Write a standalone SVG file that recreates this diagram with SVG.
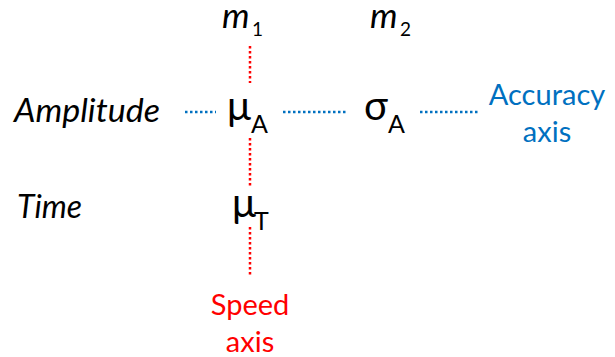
<svg xmlns="http://www.w3.org/2000/svg" width="615" height="357" viewBox="0 0 615 357">
<style>
text { font-family: Lato, "Open Sans", "Liberation Sans", sans-serif; fill: #000; }
.lab { font-style: italic; font-size: 32px; }
.m { font-style: italic; font-size: 35px; }
.sub1 { font-size: 19px; }
.greek { font-size: 40px; }
.sub { font-size: 25px; }
.blue { fill: #0070C0; font-size: 29px; }
.red { fill: #FF0000; font-size: 29px; }
.vline { stroke: #FF0000; stroke-width: 2.5; stroke-dasharray: 2.5 2.5; fill: none; }
.hline { stroke: #0070C0; stroke-width: 2.5; stroke-dasharray: 2.5 2.5; fill: none; }
</style>
<rect width="615" height="357" fill="#fff"/>
<g id="connectors">
  <line class="vline" x1="250" y1="46" x2="250" y2="83"/>
  <line class="vline" x1="250" y1="138" x2="250" y2="186"/>
  <line class="vline" x1="250" y1="227" x2="250" y2="275"/>
  <line class="hline" x1="185" y1="112" x2="216" y2="112"/>
  <line class="hline" x1="283" y1="112" x2="346" y2="112"/>
  <line class="hline" x1="420" y1="112" x2="478" y2="112"/>
</g>
<g id="m1"><text class="m" x="222" y="28">m</text><text class="sub1" x="252" y="36">1</text></g>
<g id="m2"><text class="m" x="370" y="28">m</text><text class="sub1" x="400" y="36">2</text></g>
<g id="amplitude"><text class="lab" x="14" y="122" textLength="146" lengthAdjust="spacingAndGlyphs">Amplitude</text></g>
<g id="time"><text class="lab" x="17" y="218" textLength="65" lengthAdjust="spacingAndGlyphs">Time</text></g>
<g id="muA"><text class="greek" x="227" y="120">μ</text><text class="sub" x="251" y="133">A</text></g>
<g id="sigmaA"><text class="greek" x="364" y="120">σ</text><text class="sub" x="388" y="133">A</text></g>
<g id="muT"><text class="greek" x="232" y="217">μ</text><text class="sub" x="254" y="230">T</text></g>
<g id="accuracy"><text class="blue" x="547" y="105" text-anchor="middle">Accuracy</text><text class="blue" x="547" y="142" text-anchor="middle">axis</text></g>
<g id="speed"><text class="red" x="250" y="315" text-anchor="middle">Speed</text><text class="red" x="250" y="352" text-anchor="middle">axis</text></g>
</svg>
